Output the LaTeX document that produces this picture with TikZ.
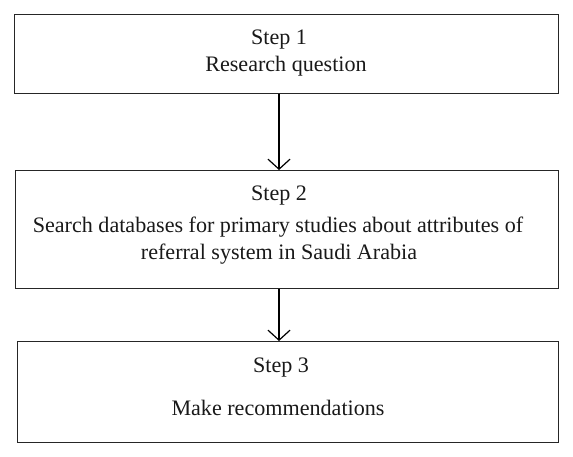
\documentclass[tikz,border=0pt]{standalone}
\usepackage{fontspec}
\setmainfont{Liberation Serif}
\usetikzlibrary{arrows.meta}
\begin{document}
\begin{tikzpicture}[x=1pt,y=-1pt,
  box/.style={draw=black!85, line width=1.2pt, rectangle, inner sep=0pt, anchor=north west},
  txt/.style={anchor=base, inner sep=0pt, font=\fontsize{22.1}{26}\selectfont, text=black!90},
  arr/.style={draw=black, line width=1.2pt, -{Straight Barb[length=10pt,width=22pt,line width=1.2pt]}}]
\useasboundingbox (0,0) rectangle (573,457);
\node[box, minimum width=544pt, minimum height=79pt] (b1) at (14,14) {};
\node[box, minimum width=543pt, minimum height=118pt] (b2) at (15,170) {};
\node[box, minimum width=541pt, minimum height=101pt] (b3) at (17,341) {};
\node[txt] (s1) at (279,45) {Step 1};
\node[txt] (t1) at (286,72) {Research question};
\node[txt] (s2) at (279,201) {Step 2};
\node[txt] (t2a) at (278,233) {Search databases for primary studies about attributes of};
\node[txt] (t2b) at (279,259) {referral system in Saudi Arabia};
\node[txt] (s3) at (281,372) {Step 3};
\node[txt] (t3) at (278,415) {Make recommendations};
\draw[arr] (b1.south -| s1) -- (b2.north -| s1);
\draw[arr] (b2.south -| s1) -- (b3.north -| s1);
\end{tikzpicture}
\end{document}
